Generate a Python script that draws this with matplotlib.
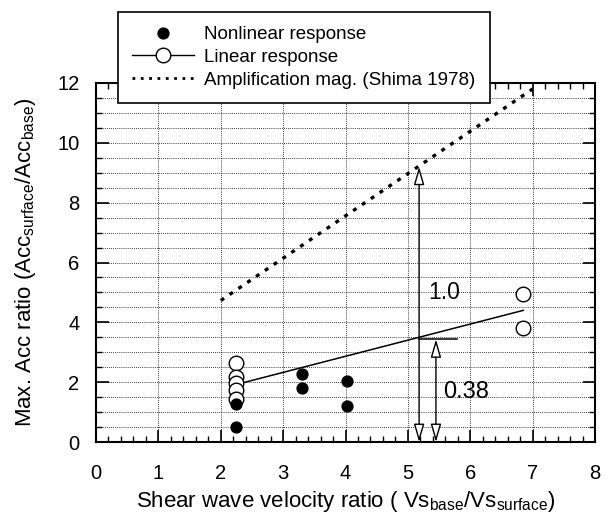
import matplotlib
matplotlib.use("Agg")
import matplotlib.pyplot as plt
from matplotlib.lines import Line2D
from matplotlib.ticker import MultipleLocator

plt.rcParams['font.family'] = ['Liberation Sans', 'DejaVu Sans']
plt.rcParams['mathtext.fontset'] = 'custom'
plt.rcParams['mathtext.rm'] = 'Liberation Sans'
plt.rcParams['mathtext.it'] = 'Liberation Sans'

# Data
nonlin_x = [2.24, 2.24, 3.30, 3.30, 4.02, 4.02]
nonlin_y = [0.51, 1.27, 2.27, 1.82, 2.04, 1.20]
lin_x = [2.24, 2.24, 2.24, 2.24, 2.24, 6.85, 6.85]
lin_y = [2.64, 2.18, 1.96, 1.73, 1.45, 4.96, 3.82]
fit_x = [2.30, 6.85]
fit_y = [1.95, 4.40]
shima_x = [2.0, 7.0]
shima_y = [4.73, 11.8]
arrow1_x, arrow1_top = 5.18, 9.2
arrow2_x, arrow2_top = 5.45, 3.43
bar_x = [5.18, 5.78]
xticks = list(range(0, 9))
yticks = list(range(0, 13, 2))

fig = plt.figure(figsize=(6.06, 5.17), dpi=100)
ax = fig.add_axes([96/606, 1-442/517, 499/606, 359/517])

ax.set_xlim(0, 8)
ax.set_ylim(0, 12)
ax.set_xticks(xticks)
ax.set_yticks(yticks)
ax.xaxis.set_minor_locator(MultipleLocator(0.2))
ax.yaxis.set_minor_locator(MultipleLocator(0.5))
ax.tick_params(which='both', direction='in', top=True, right=True, colors='black')
ax.tick_params(which='major', length=9, width=1.2, labelsize=14.5)
ax.tick_params(axis='x', which='major', pad=16)
ax.tick_params(axis='y', which='major', pad=12)
ax.tick_params(which='minor', length=4.5, width=1.0)

# grid
for yv in [i*0.5 for i in range(1, 24)]:
    ax.axhline(yv, color='black', lw=0.6, ls=(0, (1, 1.5)), zorder=0.5)
for xv in range(1, 8):
    ax.axvline(xv, color='black', lw=0.6, ls=(0, (1, 1.5)), zorder=0.5)

for s in ax.spines.values():
    s.set_linewidth(1.5)

# Shima line
ax.plot(shima_x, shima_y, color='black', lw=2.4, ls=(0, (1.2, 2.0)), zorder=3)
# linear fit
ax.plot(fit_x, fit_y, color='black', lw=1.1, zorder=3)
# open circles
ax.plot(lin_x, lin_y, 'o', ms=10.5, mfc='white', mec='black', mew=1.0, ls='none', zorder=4)
# filled
ax.plot(nonlin_x, nonlin_y, 'o', ms=7.8, mfc='black', mec='black', ls='none', zorder=5)

# arrows
arrowprops = dict(arrowstyle='<|-|>,head_length=1.1,head_width=0.32', color='black',
                  lw=1.0, fc='white', shrinkA=0, shrinkB=0)
ax.annotate('', xy=(arrow1_x, arrow1_top), xytext=(arrow1_x, 0.0), arrowprops=arrowprops, zorder=6)
ax.annotate('', xy=(arrow2_x, arrow2_top), xytext=(arrow2_x, 0.0), arrowprops=arrowprops, zorder=6)
ax.plot(bar_x, [arrow2_top, arrow2_top], color='black', lw=1.1, zorder=6)
ax.text(5.58, 5.0, '1.0', fontsize=16.5, ha='center', va='center', zorder=7)
ax.text(5.93, 1.68, '0.38', fontsize=17, ha='center', va='center', zorder=7)

ax.set_xlabel(r'Shear wave velocity ratio ( Vs$_{\rm base}$/Vs$_{\rm surface}$)', fontsize=16, labelpad=4)
ax.set_ylabel(r'Max. Acc ratio (Acc$_{\rm surface}$/Acc$_{\rm base}$)', fontsize=16, labelpad=14)

handles = [
    Line2D([], [], ls='none', marker='o', ms=7.8, mfc='black', mec='black'),
    Line2D([], [], color='black', lw=1.0, marker='o', ms=10.5, mfc='white', mec='black'),
    Line2D([], [], color='black', lw=2.0, ls=(0, (1, 2))),
]
labels = ['Nonlinear response', 'Linear response', 'Amplification mag. (Shima 1978)']
leg = ax.legend(handles, labels, loc='upper left', bbox_to_anchor=(0.044, 1.198),
                borderaxespad=0, fontsize=13.5, handlelength=3.3, handletextpad=0.55,
                labelspacing=0.3, fancybox=False, framealpha=1, edgecolor='black',
                borderpad=0.75)
leg.get_frame().set_linewidth(1.2)
leg.set_zorder(10)

fig.savefig('out.png', dpi=100)
